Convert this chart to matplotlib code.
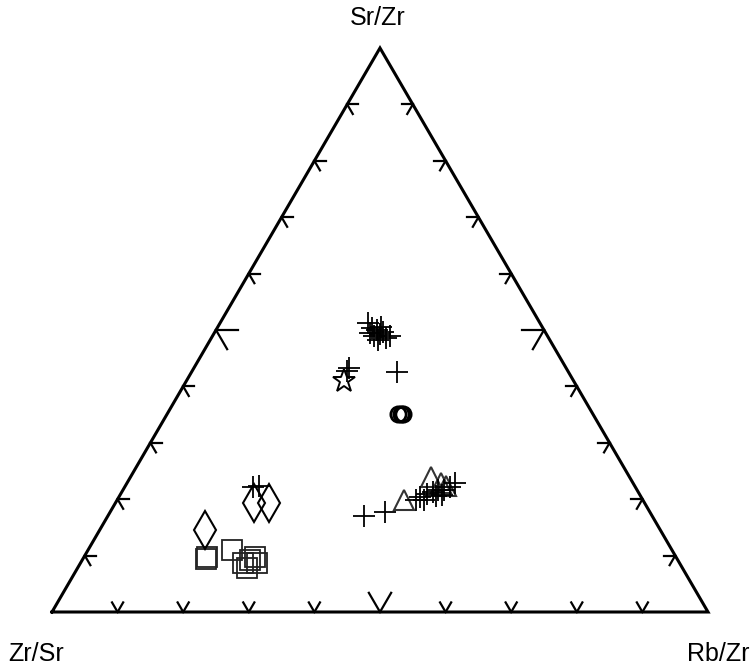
import matplotlib
matplotlib.use("Agg")
import matplotlib.pyplot as plt
import numpy as np

# ternary values in percent: (Sr/Zr, Zr/Sr, Rb/Zr)
plus_top = [51.2, 50.4, 50.0, 49.3, 48.9, 49.6, 48.2, 48.6, 49.5, 48.9, 50.5, 42.6, 42.7, 43.3,
            22.2, 22.3,
            17.0, 17.7, 20.4, 20.9, 21.3, 21.6, 21.6, 22.2, 22.9, 19.9, 20.6, 19.9, 20.7]
plus_left = [26.2, 26.0, 25.5, 25.3, 26.4, 24.7, 26.2, 24.8, 26.8, 24.0, 24.6, 26.1, 33.7, 33.1,
             58.3, 57.3,
             43.9, 40.4, 33.7, 32.4, 31.3, 30.3, 29.4, 28.2, 27.1, 33.4, 31.2, 34.6, 30.2]
plus_right = [22.6, 23.6, 24.5, 25.4, 24.7, 25.7, 25.6, 26.6, 23.7, 27.1, 24.9, 31.3, 23.6, 23.6,
              19.5, 20.4,
              39.1, 41.9, 45.9, 46.7, 47.4, 48.1, 49.0, 49.6, 50.0, 46.7, 48.2, 45.5, 49.1]

star_top, star_left, star_right = [41.0], [35.0], [24.0]

circle_top = [35.1, 35.1, 35.1]
circle_left = [29.7, 29.3, 28.9]
circle_right = [35.2, 35.6, 36.0]

diamond_top = [19.3, 19.3, 14.5]
diamond_left = [59.5, 57.3, 69.4]
diamond_right = [21.2, 23.4, 16.1]

square_top = [9.4, 9.7, 11.0, 8.7, 9.2, 9.7, 7.8, 8.7]
square_left = [71.8, 71.5, 67.1, 66.5, 65.2, 64.2, 66.4, 64.4]
square_right = [18.8, 18.8, 21.9, 24.8, 25.6, 26.1, 25.8, 26.9]

triangle_top = [19.9, 23.9, 22.9, 22.3]
triangle_left = [36.4, 30.3, 29.3, 28.8]
triangle_right = [43.7, 45.8, 47.8, 48.9]

vertex_labels = ["Sr/Zr", "Zr/Sr", "Rb/Zr"]


def to_xy(top, left, right):
    top, left, right = np.asarray(top), np.asarray(left), np.asarray(right)
    s = top + left + right
    t, r = top / s, right / s
    return r + t / 2, t


fig = plt.figure(figsize=(7.54, 6.68), dpi=100)
ax = fig.add_axes([52 / 754, 56 / 668, 656 / 754, 564 / 668])
ax.set_xlim(0, 1)
ax.set_ylim(0, 1)
ax.axis("off")

# triangle frame
ax.plot([0, 1, 0.5, 0], [0, 0, 1, 0], color="black", lw=2.2, clip_on=False,
        solid_joinstyle="miter")

# tick stubs (start of the grid lines) every 10 %
for k in range(1, 10):
    f = k / 10
    s = 0.034 if k == 5 else 0.017
    kw = dict(color="black", lw=1.6, clip_on=False)
    # left edge
    x0, y0 = f / 2, f
    ax.plot([x0, x0 + s], [y0, y0], **kw)
    ax.plot([x0, x0 + s / 2], [y0, y0 - s], **kw)
    # right edge
    x0, y0 = 1 - f / 2, f
    ax.plot([x0, x0 - s], [y0, y0], **kw)
    ax.plot([x0, x0 - s / 2], [y0, y0 - s], **kw)
    # bottom edge
    x0 = f
    ax.plot([x0, x0 + s / 2], [0, s], **kw)
    ax.plot([x0, x0 - s / 2], [0, s], **kw)

mk = dict(ls="none", mfc="none", clip_on=False)
ax.plot(*to_xy(square_top, square_left, square_right), "s", ms=14, mec="#222222", mew=1.3, **mk)
ax.plot(*to_xy(diamond_top, diamond_left, diamond_right), "d", ms=19, mec="black", mew=1.5, **mk)
ax.plot(*to_xy(triangle_top, triangle_left, triangle_right), "^", ms=15, mec="#333333", mew=1.5, **mk)
ax.plot(*to_xy(circle_top, circle_left, circle_right), "o", ms=11, mec="black", mew=2.0, **mk)
ax.plot(*to_xy(star_top, star_left, star_right), "*", ms=17, mec="black", mew=1.4, **mk)
ax.plot(*to_xy(plus_top, plus_left, plus_right), "+", ms=16, mec="black", mew=1.3, **mk)

font = dict(family=["Liberation Sans", "DejaVu Sans"], fontsize=18, ha="center", va="center")
fig.text(378 / 754, 1 - 18 / 668, vertex_labels[0], **font)
fig.text(36 / 754, 1 - 654 / 668, vertex_labels[1], **font)
fig.text(718 / 754, 1 - 654 / 668, vertex_labels[2], **font)

fig.savefig("out.png", dpi=100)
